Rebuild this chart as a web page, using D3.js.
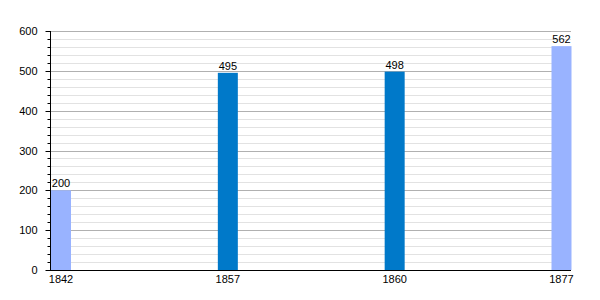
<!DOCTYPE html>
<html>
<head>
<meta charset="utf-8">
<script src="https://cdn.jsdelivr.net/npm/d3@7"></script>
<style>
  body { margin: 0; background: #fff; }
  text { font-family: "Liberation Sans", Arial, sans-serif; }
</style>
</head>
<body>
<svg id="chart" width="600" height="300"></svg>
<script>
const years = ["1842", "1857", "1860", "1877"];
const population = [200, 495, 498, 562];
const barColors = ["#99b3ff", "#0079c9", "#0079c9", "#99b3ff"];
const yTicks = [0, 100, 200, 300, 400, 500, 600];

var margin = {top: 31, right: 29, bottom: 30, left: 50},
    width = 600 - margin.left - margin.right,
    height = 300 - margin.top - margin.bottom;

var svg = d3.select("#chart")
  .append("g")
  .attr("transform", "translate(" + margin.left + "," + margin.top + ")");

var y = d3.scaleLinear().domain([0, 600]).range([height, 0]);
var barW = 20;
var x = d3.scalePoint().domain(years).range([1 + barW / 2, width - barW / 2 + 0.5]);

// minor grid every 20
svg.selectAll(".minor")
  .data(d3.range(20, 601, 20).filter(function(v) { return v % 100 !== 0; }))
  .enter().append("line")
  .attr("x1", 0).attr("x2", width)
  .attr("y1", function(d) { return Math.round(y(d)) + 0.5; })
  .attr("y2", function(d) { return Math.round(y(d)) + 0.5; })
  .style("stroke", "#e2e2e2");

// major grid
svg.selectAll(".major")
  .data(yTicks.slice(1))
  .enter().append("line")
  .attr("x1", 0).attr("x2", width)
  .attr("y1", function(d) { return Math.round(y(d)) + 0.5; })
  .attr("y2", function(d) { return Math.round(y(d)) + 0.5; })
  .style("stroke", "#b0b0b0");

// bars
svg.selectAll(".bar")
  .data(years)
  .enter().append("rect")
  .attr("x", function(d) { return x(d) - barW / 2; })
  .attr("width", barW)
  .attr("y", function(d, i) { return y(population[i]); })
  .attr("height", function(d, i) { return height - y(population[i]); })
  .style("fill", function(d, i) { return barColors[i]; });

// value labels
svg.selectAll(".val")
  .data(years)
  .enter().append("text")
  .attr("x", function(d) { return x(d); })
  .attr("y", function(d, i) { return y(population[i]) - 3; })
  .attr("text-anchor", "middle")
  .style("font-size", "11px")
  .style("fill", "#000")
  .text(function(d, i) { return population[i]; });

// y axis with minor ticks
var yAxis = svg.append("g").attr("transform", "translate(0.5,0)");
yAxis.selectAll(".mt")
  .data(d3.range(0, 601, 20))
  .enter().append("line")
  .attr("x1", function(d) { return d % 100 === 0 ? -5 : -3; })
  .attr("x2", 0)
  .attr("y1", function(d) { return Math.round(y(d)) + 0.5; })
  .attr("y2", function(d) { return Math.round(y(d)) + 0.5; })
  .style("stroke", "#000");
yAxis.append("line")
  .attr("x1", 0).attr("x2", 0)
  .attr("y1", 0).attr("y2", height + 0.5)
  .style("stroke", "#000");
yAxis.selectAll(".yl")
  .data(yTicks)
  .enter().append("text")
  .attr("x", -13)
  .attr("y", function(d) { return y(d) + 4; })
  .attr("text-anchor", "end")
  .style("font-size", "11px")
  .text(function(d) { return d; });

// x axis
svg.append("line")
  .attr("x1", 0).attr("x2", width)
  .attr("y1", Math.round(height) + 0.5).attr("y2", Math.round(height) + 0.5)
  .style("stroke", "#000");
svg.selectAll(".xl")
  .data(years)
  .enter().append("text")
  .attr("x", function(d) { return x(d); })
  .attr("y", height + 13)
  .attr("text-anchor", "middle")
  .style("font-size", "11px")
  .text(function(d) { return d; });
</script>
</body>
</html>
